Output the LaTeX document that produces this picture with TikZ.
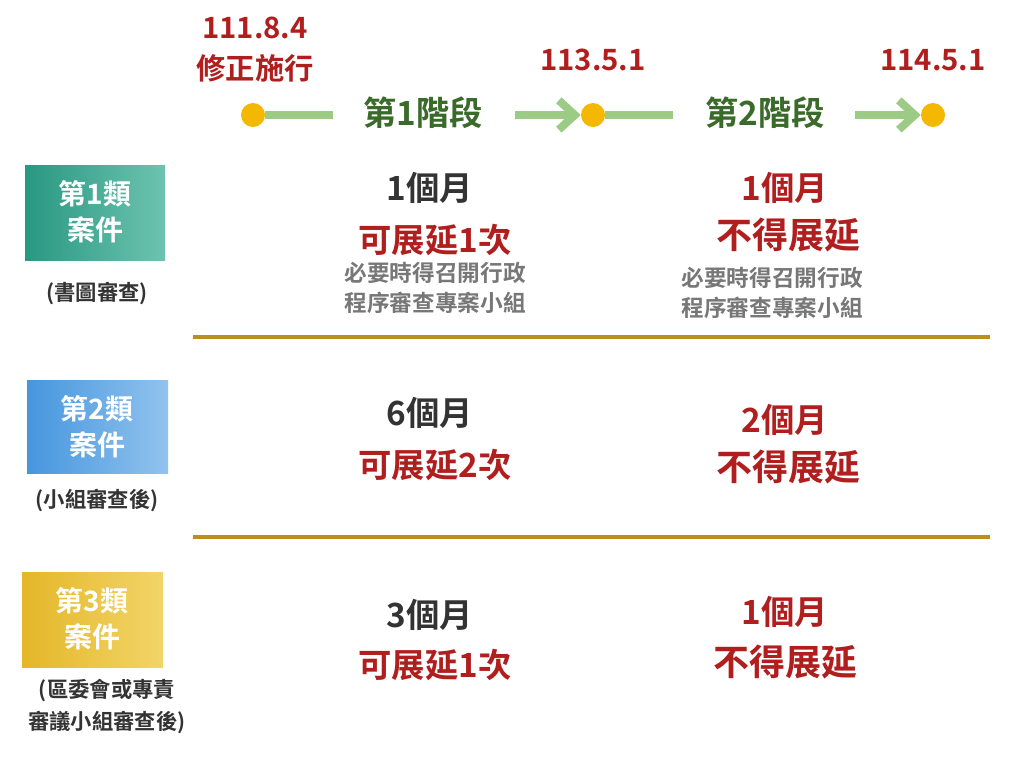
\documentclass[tikz,border=0pt]{standalone}
\usepackage{fontspec}
\setmainfont{Noto Sans CJK TC}[BoldFont={* Bold}]
\usetikzlibrary{arrows.meta}
\definecolor{dred}{HTML}{B01E1E}
\definecolor{lgreen}{HTML}{9CCB86}
\definecolor{dgreen}{HTML}{3A6B2A}
\definecolor{dotc}{HTML}{F5B800}
\definecolor{gold}{HTML}{B8901A}
\definecolor{dark}{HTML}{333333}
\definecolor{gry}{HTML}{777777}
\begin{document}
\begin{tikzpicture}[x=0.75pt,y=-0.75pt,
  every node/.style={inner sep=0pt,font=\bfseries},
  date/.style={text=dred,font=\fontsize{22}{24}\bfseries},
  stage/.style={text=dgreen,font=\fontsize{25}{27}\bfseries},
  dot/.style={circle,fill=dotc,minimum size=18pt},
  gl/.style={lgreen,line width=6pt},
  ga/.style={lgreen,line width=6pt,-{Straight Barb[length=12pt,width=22pt,line width=6pt]}},
  sep/.style={gold,line width=3.5pt},
  big/.style={text=dark,font=\fontsize{25}{27}\bfseries},
  bigred/.style={text=dred,font=\fontsize{25}{27}\bfseries},
  small/.style={text=gry,font=\fontsize{17}{22}\bfseries,align=center},
  box/.style={text=white,font=\fontsize{21}{27}\bfseries,align=center},
  capt/.style={text=dark,font=\fontsize{16}{24}\bfseries,align=center}]
\useasboundingbox (0,0) rectangle (1024,768);
\fill[white] (0,0) rectangle (1024,768);
% timeline
\node[dot] (d1) at (253,115) {};
\node[dot] (d2) at (593,115) {};
\node[dot] (d3) at (933,115) {};
\node[stage] (s1) at (423,113) {第1階段};
\node[stage] (s2) at (765,113) {第2階段};
\draw[gl] (d1.east) -- ++(68,0);
\draw[ga] (515,115) -- (d2.west);
\draw[gl] (d2.east) -- ++(68,0);
\draw[ga] (855,115) -- (d3.west);
\node[date] (t1) at (255,28) {111.8.4};
\node[date] (t1b) at (255,68) {修正施行};
\node[date] (t2) at (593,60) {113.5.1};
\node[date] (t3) at (933,60) {114.5.1};
% boxes
\shade[left color={rgb,255:red,40;green,152;blue,130},right color={rgb,255:red,110;green,195;blue,175}] (25,165) rectangle (165,260);
\node[box] (c1) at (95,212) {第1類\\案件};
\node[capt] (p1) at (97,293) {(書圖審查)};
\shade[left color={rgb,255:red,70;green,150;blue,222},right color={rgb,255:red,145;green,195;blue,238}] (27,380) rectangle (168,473);
\node[box] (c2) at (97,427) {第2類\\案件};
\node[capt] (p2) at (97,500) {(小組審查後)};
\shade[left color={rgb,255:red,228;green,183;blue,40},right color={rgb,255:red,242;green,212;blue,104}] (22,572) rectangle (163,667);
\node[box] (c3) at (92,619) {第3類\\案件};
\node[capt] (p3) at (107,706) {(區委會或專責\\審議小組審查後)};
% separators
\draw[sep] (193,337) -- (990,337);
\draw[sep] (193,537) -- (990,537);
% row1
\node[big] (r1a) at (430,188) {1個月};
\node[bigred] (r1b) at (435,240) {可展延1次};
\node[small] (r1c) at (435,288) {必要時得召開行政\\程序審查專案小組};
\node[bigred] (r1d) at (785,188) {1個月};
\node[bigred,font=\fontsize{27}{29}\bfseries] (r1e) at (788,235) {不得展延};
\node[small] (r1f) at (772,293) {必要時得召開行政\\程序審查專案小組};
% row2
\node[big] (r2a) at (430,413) {6個月};
\node[bigred] (r2b) at (435,465) {可展延2次};
\node[bigred] (r2d) at (785,420) {2個月};
\node[bigred,font=\fontsize{27}{29}\bfseries] (r2e) at (788,467) {不得展延};
% row3
\node[big] (r3a) at (430,615) {3個月};
\node[bigred] (r3b) at (435,665) {可展延1次};
\node[bigred] (r3d) at (785,612) {1個月};
\node[bigred,font=\fontsize{27}{29}\bfseries] (r3e) at (785,662) {不得展延};
\end{tikzpicture}
\end{document}
